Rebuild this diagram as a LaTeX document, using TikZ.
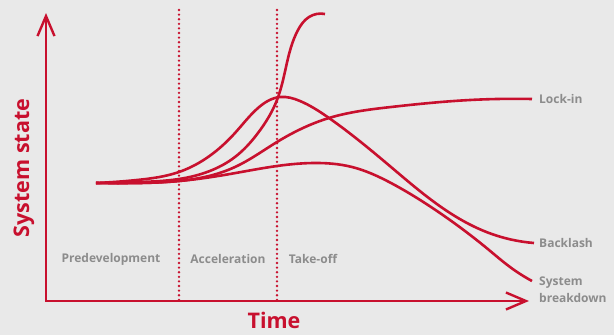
\documentclass[tikz,border=0pt]{standalone}
\usepackage{fontspec}
\setmainfont{Open Sans}
\usepackage{tikz}
\usetikzlibrary{arrows.meta,hobby,positioning}
\definecolor{trred}{RGB}{200,16,46}
\definecolor{trgrey}{RGB}{140,140,140}
\definecolor{trback}{RGB}{233,233,233}

\begin{document}
\begin{tikzpicture}[
  x=1pt, y=-1pt,
  use Hobby shortcut,
  axis/.style={draw=trred, line width=2.4pt, line join=miter,
    {Straight Barb[length=20pt,width=17pt]}-{Straight Barb[length=20pt,width=17pt]}},
  phase line/.style={draw=trred, line width=2.6pt, line cap=round, dash pattern=on 0pt off 4.6pt},
  trajectory/.style={draw=trred, line width=2.6pt},
  phase/.style={text=trgrey, font=\bfseries\fontsize{12}{14}\selectfont},
  outcome/.style={text=trgrey, font=\bfseries\fontsize{12}{17}\selectfont, align=left, inner sep=0pt},
  axis label/.style={text=trred, font=\bfseries\fontsize{21.5}{24}\selectfont}
]
\fill[trback] (0,0) rectangle (614,335);
\useasboundingbox (0,0) rectangle (614,335);

\coordinate (origin) at (46,301);
\coordinate (ytip) at (46,13);
\coordinate (xtip) at (529,301);
\coordinate (start) at (96,183);
\coordinate (takeoff) at (325,14);
\coordinate (lockin) at (532,99);
\coordinate (backlash) at (534,243);
\coordinate (breakdown) at (532,281);

\foreach \x/\name in {179/accel,277/take} {
  \coordinate (\name top) at (\x,10);
  \coordinate (\name foot) at (\x,301);
  \draw[phase line] (\name top) -- (\name foot);
}
\draw[axis] (ytip) -- (origin) -- (xtip);

\draw[trajectory] (start) .. (137,180) .. (179,172) .. (235,133) .. (258,108) .. (280,97) .. (300,101) .. (329,118) .. (391,167) .. (450,213) .. (489,233) .. (backlash);
\draw[trajectory] (start) .. (140,182) .. (179,179) .. (235,157) .. (258,133) .. (277,100) .. (286,67) .. (298,30) .. (309,17) .. (takeoff);
\draw[trajectory] (start) .. (140,183) .. (179,181) .. (235,167) .. (277,142) .. (329,118) .. (391,107) .. (470,100) .. (lockin);
\draw[trajectory] (start) .. (140,183) .. (179,181) .. (230,174) .. (277,166) .. (313,163) .. (352,167) .. (391,183) .. (431,207) .. (489,250) .. (510,267) .. (breakdown);

\node[outcome, right=7pt of lockin] (lockin label) {Lock-in};
\node[outcome, right=5pt of backlash] (backlash label) {Backlash};
\node[outcome, anchor=west] (breakdown label) at (539,290) {System\\breakdown};

\node[phase] (predev) at (111,259) {Predevelopment};
\node[phase] (accel) at (228,259) {Acceleration};
\node[phase] (take) at (313,259) {Take-off};

\node[axis label, rotate=90] (state) at (24,168) {System state};
\node[axis label] (time) at (274,320) {Time};
\end{tikzpicture}
\end{document}
